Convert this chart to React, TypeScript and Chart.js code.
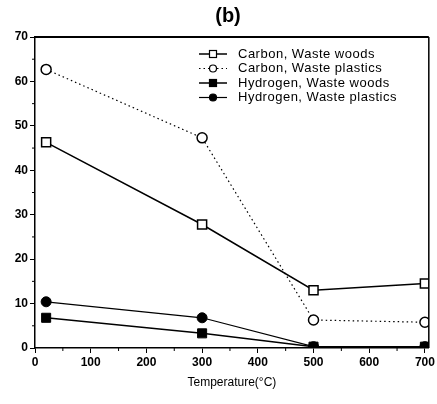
import React, { useEffect, useRef } from 'react';
import { Chart, registerables } from 'chart.js';

Chart.register(...registerables);

const temperatures = [20, 300, 500, 700];
const carbonWoods = [46.3, 27.8, 13.0, 14.5];
const carbonPlastics = [62.7, 47.3, 6.3, 5.8];
const hydrogenWoods = [6.8, 3.3, 0.3, 0.3];
const hydrogenPlastics = [10.4, 6.8, 0.3, 0.3];
const xTickValues = [0, 100, 200, 300, 400, 500, 600, 700];
const seriesLabels = [
  'Carbon, Waste woods',
  'Carbon, Waste plastics',
  'Hydrogen, Waste woods',
  'Hydrogen, Waste plastics',
];
const titleText = '(b)';
const xAxisTitle = 'Temperature(°C)';

const toPoints = (ys: number[]) => temperatures.map((x, i) => ({ x, y: ys[i] }));

const FONT = "'Liberation Sans', Arial, sans-serif";

const decorPlugin = {
  id: 'decor',
  beforeDraw(chart: any) {
    const { ctx, width, height } = chart;
    ctx.save();
    ctx.fillStyle = '#fff';
    ctx.fillRect(0, 0, width, height);
    ctx.restore();
  },
  afterDraw(chart: any) {
    const { ctx, chartArea } = chart;
    const { left, right, top, bottom } = chartArea;
    const xs = chart.scales.x;
    const ys = chart.scales.y;
    ctx.save();
    // frame
    ctx.strokeStyle = '#000';
    ctx.lineWidth = 2;
    ctx.beginPath();
    ctx.moveTo(left, top);
    ctx.lineTo(right, top);
    ctx.stroke();
    ctx.lineWidth = 1.5;
    ctx.beginPath();
    ctx.moveTo(right, top);
    ctx.lineTo(right, bottom);
    ctx.stroke();
    // minor ticks
    ctx.lineWidth = 1;
    for (let v = 50; v < 700; v += 100) {
      const px = xs.getPixelForValue(v);
      ctx.beginPath();
      ctx.moveTo(px, bottom);
      ctx.lineTo(px, bottom + 3);
      ctx.stroke();
    }
    for (let v = 5; v < 70; v += 10) {
      const py = ys.getPixelForValue(v);
      ctx.beginPath();
      ctx.moveTo(left, py);
      ctx.lineTo(left - 3, py);
      ctx.stroke();
    }
    // title
    ctx.fillStyle = '#000';
    ctx.font = `bold 20px ${FONT}`;
    ctx.textAlign = 'center';
    ctx.textBaseline = 'middle';
    ctx.fillText(titleText, 228, 16);
    // legend
    const lx = 199;
    const rowsY = [54, 68.5, 83, 97.5];
    chart.data.datasets.forEach((ds: any, i: number) => {
      const y = rowsY[i];
      ctx.save();
      ctx.strokeStyle = '#000';
      ctx.lineWidth = ds.borderWidth;
      ctx.setLineDash(ds.borderDash || []);
      ctx.beginPath();
      ctx.moveTo(lx, y);
      ctx.lineTo(lx + 28, y);
      ctx.stroke();
      ctx.setLineDash([]);
      const cx = lx + 14;
      ctx.lineWidth = 1.2;
      ctx.fillStyle = ds.pointBackgroundColor;
      if (ds.pointStyle === 'rect') {
        ctx.fillRect(cx - 3.5, y - 3.5, 7, 7);
        ctx.strokeRect(cx - 3.5, y - 3.5, 7, 7);
      } else {
        ctx.beginPath();
        ctx.arc(cx, y, 3.5, 0, Math.PI * 2);
        ctx.fill();
        ctx.stroke();
      }
      ctx.restore();
      ctx.save();
      ctx.fillStyle = '#000';
      ctx.font = `13px ${FONT}`;
      (ctx as any).letterSpacing = '0.5px';
      ctx.textAlign = 'left';
      ctx.textBaseline = 'middle';
      ctx.fillText(ds.label, lx + 39, y);
      ctx.restore();
    });
    ctx.restore();
  },
};

export default function App() {
  const ref = useRef<HTMLCanvasElement>(null);
  useEffect(() => {
    document.body.style.margin = '0';
    const canvas = ref.current!;
    const chart = new Chart(canvas, {
      type: 'scatter',
      data: {
        datasets: [
          {
            label: seriesLabels[0],
            data: toPoints(carbonWoods),
            showLine: true,
            borderColor: '#000',
            borderWidth: 1.5,
            pointStyle: 'rect',
            pointRadius: 6.4,
            pointBackgroundColor: '#fff',
            pointBorderColor: '#000',
            pointBorderWidth: 1.5,
          },
          {
            label: seriesLabels[1],
            data: toPoints(carbonPlastics),
            showLine: true,
            borderColor: '#000',
            borderWidth: 1.2,
            borderDash: [1.5, 3],
            pointStyle: 'circle',
            pointRadius: 5,
            pointBackgroundColor: '#fff',
            pointBorderColor: '#000',
            pointBorderWidth: 1.5,
          },
          {
            label: seriesLabels[2],
            data: toPoints(hydrogenWoods),
            showLine: true,
            borderColor: '#000',
            borderWidth: 1.5,
            pointStyle: 'rect',
            pointRadius: 6.4,
            pointBackgroundColor: '#000',
            pointBorderColor: '#000',
            pointBorderWidth: 1,
          },
          {
            label: seriesLabels[3],
            data: toPoints(hydrogenPlastics),
            showLine: true,
            borderColor: '#000',
            borderWidth: 1.2,
            pointStyle: 'circle',
            pointRadius: 5,
            pointBackgroundColor: '#000',
            pointBorderColor: '#000',
            pointBorderWidth: 1,
          },
        ],
      },
      options: {
        animation: false,
        responsive: false,
        maintainAspectRatio: false,
        layout: { padding: { top: 37, right: 6, left: 0, bottom: 14 } },
        plugins: {
          legend: { display: false },
          title: { display: false },
          tooltip: { enabled: false },
        },
        scales: {
          x: {
            type: 'linear',
            min: 0,
            max: 707,
            afterBuildTicks: (s: any) => { s.ticks = xTickValues.map((v) => ({ value: v })); },
            ticks: { color: '#000', font: { family: FONT, size: 12, weight: 'bold' }, padding: 2, maxRotation: 0, autoSkip: false },
            grid: { drawOnChartArea: false, tickLength: 5, color: '#000', tickColor: '#000' },
            border: { color: '#000', width: 1.5 },
            title: { display: true, text: xAxisTitle, color: '#000', font: { family: FONT, size: 12 }, padding: { top: 4, bottom: 0 } },
            afterFit: (s: any) => { s.height = 42; },
          },
          y: {
            type: 'linear',
            min: 0,
            max: 70,
            ticks: { stepSize: 10, color: '#000', font: { family: FONT, size: 12, weight: 'bold' }, padding: 2 },
            grid: { drawOnChartArea: false, tickLength: 5, color: '#000', tickColor: '#000' },
            border: { color: '#000', width: 1.5 },
            afterFit: (s: any) => { s.width = 35; },
          },
        },
      },
      plugins: [decorPlugin],
    } as any);
    return () => chart.destroy();
  }, []);
  return <canvas ref={ref} width={437} height={404} style={{ display: 'block' }} />;
}
